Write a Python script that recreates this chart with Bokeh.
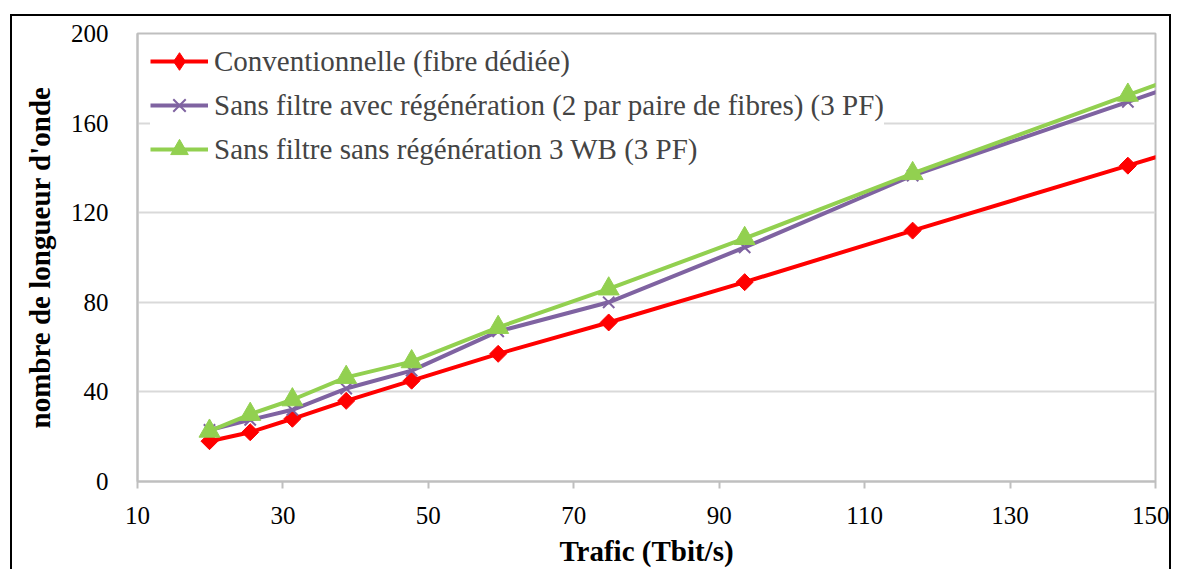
from bokeh.plotting import figure
from bokeh.models import Range1d, FixedTicker, Legend, LegendItem
from bokeh.embed import file_html
from bokeh.resources import INLINE

# Data
traffic = [19.9, 25.5, 31.3, 38.7, 47.7, 59.6, 74.8, 93.5, 116.6, 146.2, 182.7]
conventionnelle = [18, 22, 28, 36, 45, 57, 71, 89, 112, 141, 176.8]
sans_filtre_avec_regen = [23, 27.5, 32, 41.5, 49.5, 67, 80, 104.5, 136.6, 169.5, 210]
sans_filtre_sans_regen = [22.5, 30, 36.5, 46.5, 53.5, 68.8, 86, 108.5, 137.5, 172.5, 215.6]

series_names = [
    "Conventionnelle (fibre dédiée)",
    "Sans filtre avec régénération (2 par paire de fibres) (3 PF)",
    "Sans filtre sans régénération 3 WB (3 PF)",
]
x_ticks = [10, 30, 50, 70, 90, 110, 130, 150]
y_ticks = [0, 40, 80, 120, 160, 200]

FONT = "Liberation Serif"
RED = "#FF0000"
PURPLE = "#7F63A1"
GREEN = "#92D050"
GRAY = "#BFBFBF"

p = figure(width=1161, height=555, output_backend="svg", toolbar_location=None,
           x_range=Range1d(10, 150), y_range=Range1d(0, 200),
           min_border_left=125, min_border_top=17, min_border_right=18, min_border_bottom=90,
           margin=(14, 0, 0, 10))
p.styles = {"border-top": "2px solid black", "border-left": "2px solid black",
            "border-right": "2px solid black"}

p.outline_line_color = GRAY
p.outline_line_width = 2
p.background_fill_color = "white"
p.border_fill_color = "white"

p.xgrid.grid_line_color = None
p.ygrid.grid_line_color = "#D9D9D9"
p.ygrid.grid_line_width = 2

p.xaxis.ticker = FixedTicker(ticks=x_ticks)
p.yaxis.ticker = FixedTicker(ticks=y_ticks)
for ax in (p.xaxis, p.yaxis):
    ax.axis_line_color = GRAY
    ax.axis_line_width = 2
    ax.minor_tick_line_color = None
    ax.major_label_text_font = FONT
    ax.major_label_text_font_size = "25px"
    ax.major_label_text_color = "black"
    ax.axis_label_text_font = FONT
    ax.axis_label_text_font_size = "29px"
    ax.axis_label_text_font_style = "bold"
    ax.axis_label_text_color = "black"

p.xaxis.major_tick_line_color = GRAY
p.xaxis.major_tick_line_width = 2
p.xaxis.major_tick_out = 7
p.xaxis.major_tick_in = 0
p.xaxis.major_label_standoff = 18
p.xaxis.axis_label = "Trafic (Tbit/s)"
p.xaxis.axis_label_standoff = 8

p.yaxis.major_tick_line_color = None
p.yaxis.major_tick_out = 0
p.yaxis.major_tick_in = 0
p.yaxis.major_label_standoff = 29
p.yaxis.axis_label = "nombre de longueur d'onde"
p.yaxis.axis_label_standoff = 12

r1l = p.line(traffic, conventionnelle, line_color=RED, line_width=4)
r1m = p.scatter(traffic, conventionnelle, marker="square", angle=0.785398, size=12,
                line_width=1, fill_color=RED, line_color=RED)
# diamond version used only for the legend swatch
r1d = p.scatter(traffic, conventionnelle, marker="diamond", size=18, line_width=1,
                fill_color=RED, line_color=RED, visible=False)
r2l = p.line(traffic, sans_filtre_avec_regen, line_color=PURPLE, line_width=4)
r2m = p.scatter(traffic, sans_filtre_avec_regen, marker="x", size=16,
                line_color=PURPLE, line_width=2)
r3l = p.line(traffic, sans_filtre_sans_regen, line_color=GREEN, line_width=4)
r3m = p.scatter(traffic, sans_filtre_sans_regen, marker="triangle", size=21,
                fill_color=GREEN, line_color=GREEN)

legend = Legend(items=[
    LegendItem(label=series_names[0], renderers=[r1l, r1d]),
    LegendItem(label=series_names[1], renderers=[r2l, r2m]),
    LegendItem(label=series_names[2], renderers=[r3l, r3m]),
], location=(13, 310), padding=6, margin=0, spacing=0,
   glyph_width=58, glyph_height=44, label_height=44, label_standoff=6,
   label_text_font=FONT, label_text_font_size="29px",
   background_fill_color="white", background_fill_alpha=1.0,
   border_line_color=None, click_policy="none")
p.add_layout(legend, "center")

open("out.html", "w").write(file_html(p, INLINE))
